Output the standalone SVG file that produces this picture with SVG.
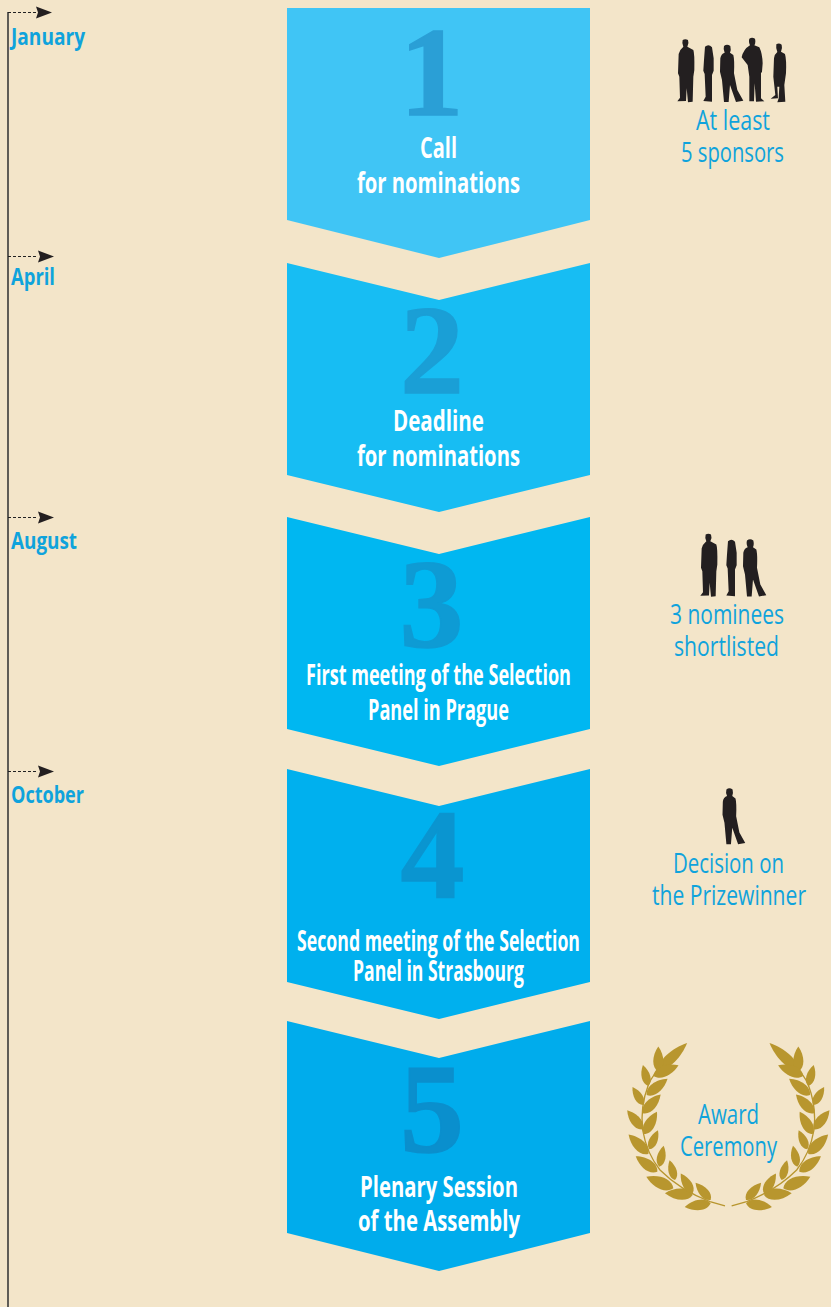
<svg xmlns="http://www.w3.org/2000/svg" xmlns:xlink="http://www.w3.org/1999/xlink" width="831" height="1307" viewBox="0 0 831 1307">
<style>
.w{font:700 28px "Open Sans","Liberation Sans",Arial,sans-serif;fill:#fff}
.b{font:400 28px "Open Sans","Liberation Sans",Arial,sans-serif;fill:#0fa3dc}
.m{font:700 23px "Open Sans","Liberation Sans",Arial,sans-serif;fill:#0fa3dc}
.n{font:bold 128px "Liberation Serif","Times New Roman",serif;text-anchor:middle;stroke-width:1.5}
.sil{fill:#231f20}
.gold{fill:#b8962e}
</style>
<defs>
<path id="leaf" d="M0 0C18 -30 68 -28 108 0C68 28 18 30 0 0Z"/>
<path id="p1" d="M68 30Q76 26 84 30Q88 40 82 50L100 60Q104 70 103 120L100 140L98 215L84 217L80 175L78 213L52 214L60 203L58 140L54 130L56 72Q58 60 70 50Q65 40 68 30Z"/>
<path id="p2" d="M135 50Q146 40 156 52L161 85L161 122L156 135L156 215L130 213L137 200L134 132L130 122L132 90Z"/>
<path id="p3" d="M192 48Q201 40 211 48Q214 60 210 68L220 75Q224 90 222 130L232 180L250 212L228 216L210 165L206 216L192 216L186 150L180 125L181 85Q183 72 194 68Q189 58 192 48Z"/>
<path id="p4" d="M268 26Q276 21 285 26Q288 38 283 46L298 52Q307 70 308 100L306 125L303 130L303 205L313 214L288 215L284 160L282 214L268 214L268 140L263 105L245 82Q250 58 270 46Q265 36 268 26Z"/>
<path id="p5" d="M349 43Q357 37 365 44Q368 55 363 65L375 72Q380 90 378 130L373 165L376 215L352 217L356 205L358 170L352 170L354 205L332 206L346 195L340 140L342 85Q344 72 352 66Q347 55 349 43Z"/>
<g id="branch" class="gold">
<path d="M315 528L270 515Q180 480 120 420Q80 370 68 300Q60 230 85 165Q100 130 125 112" fill="none" stroke="#b8962e" stroke-width="4"/>
<use xlink:href="#leaf" href="#leaf" transform="matrix(.8 -.75 .5 .53 115 120)"/>
<use xlink:href="#leaf" href="#leaf" transform="matrix(0 -.7 .7 0 115 125)"/>
<use xlink:href="#leaf" href="#leaf" transform="matrix(.7 -.29 .29 .7 100 137)"/>
<use xlink:href="#leaf" href="#leaf" transform="matrix(-.15 -.58 .58 -.15 85 168)"/>
<use xlink:href="#leaf" href="#leaf" transform="matrix(.58 -.45 .45 .58 80 195)"/>
<use xlink:href="#leaf" href="#leaf" transform="matrix(-.3 -.5 .5 -.3 70 225)"/>
<use xlink:href="#leaf" href="#leaf" transform="matrix(.5 -.52 .52 .5 68 250)"/>
<use xlink:href="#leaf" href="#leaf" transform="matrix(-.43 -.53 .53 -.43 68 298)"/>
<use xlink:href="#leaf" href="#leaf" transform="matrix(.36 -.62 .62 .36 72 312)"/>
<use xlink:href="#leaf" href="#leaf" transform="matrix(-.55 -.54 .54 -.55 85 372)"/>
<use xlink:href="#leaf" href="#leaf" transform="matrix(.24 -.53 .53 .24 88 358)"/>
<use xlink:href="#leaf" href="#leaf" transform="matrix(-.6 -.43 .43 -.6 112 425)"/>
<use xlink:href="#leaf" href="#leaf" transform="matrix(.12 -.58 .58 .12 118 410)"/>
<use xlink:href="#leaf" href="#leaf" transform="matrix(-.75 -.32 .32 -.75 160 475)"/>
<use xlink:href="#leaf" href="#leaf" transform="matrix(-.15 -.55 .55 -.15 165 450)"/>
<use xlink:href="#leaf" href="#leaf" transform="matrix(-.77 -.05 .05 -.77 218 495)"/>
<use xlink:href="#leaf" href="#leaf" transform="matrix(-.33 -.55 .55 -.33 218 490)"/>
<use xlink:href="#leaf" href="#leaf" transform="matrix(-.72 .1 -.1 -.72 272 520)"/>
<use xlink:href="#leaf" href="#leaf" transform="matrix(-.42 -.48 .48 -.42 272 510)"/>
</g>
<polygon id="ah" points="0,-6 16,0 0,6 2,0" fill="#231f20"/>
</defs>
<rect width="831" height="1307" fill="#f3e5c9"/>
<g id="connectors" fill="none" stroke="#3a3a3a">
<path d="M8 12V1307" stroke-width="1.6"/>
<g stroke-width="1.2" stroke-dasharray="3 2" stroke="#222">
<path d="M8 12.500H36"/><path d="M8 256.500H38"/><path d="M8 517.500H38"/><path d="M8 771.500H38"/>
</g>
<use xlink:href="#ah" href="#ah" x="36" y="12.500" stroke="none"/>
<use xlink:href="#ah" href="#ah" x="38" y="256.500" stroke="none"/>
<use xlink:href="#ah" href="#ah" x="38" y="517.500" stroke="none"/>
<use xlink:href="#ah" href="#ah" x="38" y="771.500" stroke="none"/>
</g>
<g id="month-january"><text class="m" x="11" y="45" textLength="74" lengthAdjust="spacingAndGlyphs">January</text></g>
<g id="month-april"><text class="m" x="11" y="285" textLength="44" lengthAdjust="spacingAndGlyphs">April</text></g>
<g id="month-august"><text class="m" x="11" y="549" textLength="66" lengthAdjust="spacingAndGlyphs">August</text></g>
<g id="month-october"><text class="m" x="11" y="803" textLength="73" lengthAdjust="spacingAndGlyphs">October</text></g>
<g id="step-1">
<polygon points="287,8 590,8 590,220 439,258 287,220" fill="#40c5f5"/>
<text class="n" x="431.500" y="115" fill="#2a9fd6" stroke="#2a9fd6">1</text>
<text class="w" x="420" y="158" textLength="37" lengthAdjust="spacingAndGlyphs">Call</text>
<text class="w" x="357" y="193" textLength="163" lengthAdjust="spacingAndGlyphs">for nominations</text>
</g>
<g id="step-2">
<polygon points="287,263 439,300 590,263 590,475 439,512 287,475" fill="#17bdf3"/>
<text class="n" x="432" y="393" fill="#1a9fd6" stroke="#1a9fd6">2</text>
<text class="w" x="393" y="431" textLength="91" lengthAdjust="spacingAndGlyphs">Deadline</text>
<text class="w" x="357" y="466" textLength="163" lengthAdjust="spacingAndGlyphs">for nominations</text>
</g>
<g id="step-3">
<polygon points="287,517 439,554 590,517 590,729 439,766 287,729" fill="#00b7f1"/>
<text class="n" x="431.500" y="647" fill="#0e9bd4" stroke="#0e9bd4">3</text>
<text class="w" x="306" y="685" textLength="265" lengthAdjust="spacingAndGlyphs">First meeting of the Selection</text>
<text class="w" x="368" y="720" textLength="141" lengthAdjust="spacingAndGlyphs">Panel in Prague</text>
</g>
<g id="step-4">
<polygon points="287,769 439,806 590,769 590,982 439,1019 287,982" fill="#00b0ee"/>
<text class="n" x="432.500" y="897" fill="#0a95d0" stroke="#0a95d0">4</text>
<text class="w" x="297" y="951" textLength="283" lengthAdjust="spacingAndGlyphs">Second meeting of the Selection</text>
<text class="w" x="353" y="981" textLength="171" lengthAdjust="spacingAndGlyphs">Panel in Strasbourg</text>
</g>
<g id="step-5">
<polygon points="287,1021 439,1058 590,1021 590,1233 439,1271 287,1233" fill="#00acec"/>
<text class="n" x="432" y="1151.500" fill="#0a8fcd" stroke="#0a8fcd">5</text>
<text class="w" x="360" y="1197" textLength="158" lengthAdjust="spacingAndGlyphs">Plenary Session</text>
<text class="w" x="358" y="1231" textLength="162" lengthAdjust="spacingAndGlyphs">of the Assembly</text>
</g>
<g id="sponsors">
<g class="sil" transform="translate(660 30) scale(.3333)">
<use xlink:href="#p1" href="#p1"/><use xlink:href="#p2" href="#p2"/><use xlink:href="#p3" href="#p3"/><use xlink:href="#p4" href="#p4"/><use xlink:href="#p5" href="#p5"/>
</g>
<text class="b" x="696" y="130" textLength="74" lengthAdjust="spacingAndGlyphs">At least</text>
<text class="b" x="681" y="162" textLength="103" lengthAdjust="spacingAndGlyphs">5 sponsors</text>
</g>
<g id="nominees">
<g class="sil" transform="translate(683 524.500) scale(.3333)">
<use xlink:href="#p1" href="#p1"/><use xlink:href="#p2" href="#p2"/><use xlink:href="#p3" href="#p3"/>
</g>
<text class="b" x="670" y="624" textLength="114" lengthAdjust="spacingAndGlyphs">3 nominees</text>
<text class="b" x="674" y="656" textLength="105" lengthAdjust="spacingAndGlyphs">shortlisted</text>
</g>
<g id="prizewinner">
<g class="sil" transform="translate(664 774) scale(.325)"><use xlink:href="#p3" href="#p3"/></g>
<text class="b" x="673" y="873" textLength="111" lengthAdjust="spacingAndGlyphs">Decision on</text>
<text class="b" x="652" y="905" textLength="154" lengthAdjust="spacingAndGlyphs">the Prizewinner</text>
</g>
<g id="award">
<g transform="translate(620 1030) scale(.3333)">
<use xlink:href="#branch" href="#branch"/>
<use xlink:href="#branch" href="#branch" transform="translate(650 0) scale(-1 1)"/>
</g>
<text class="b" x="698" y="1124" textLength="61" lengthAdjust="spacingAndGlyphs">Award</text>
<text class="b" x="680" y="1156" textLength="97" lengthAdjust="spacingAndGlyphs">Ceremony</text>
</g>
</svg>
